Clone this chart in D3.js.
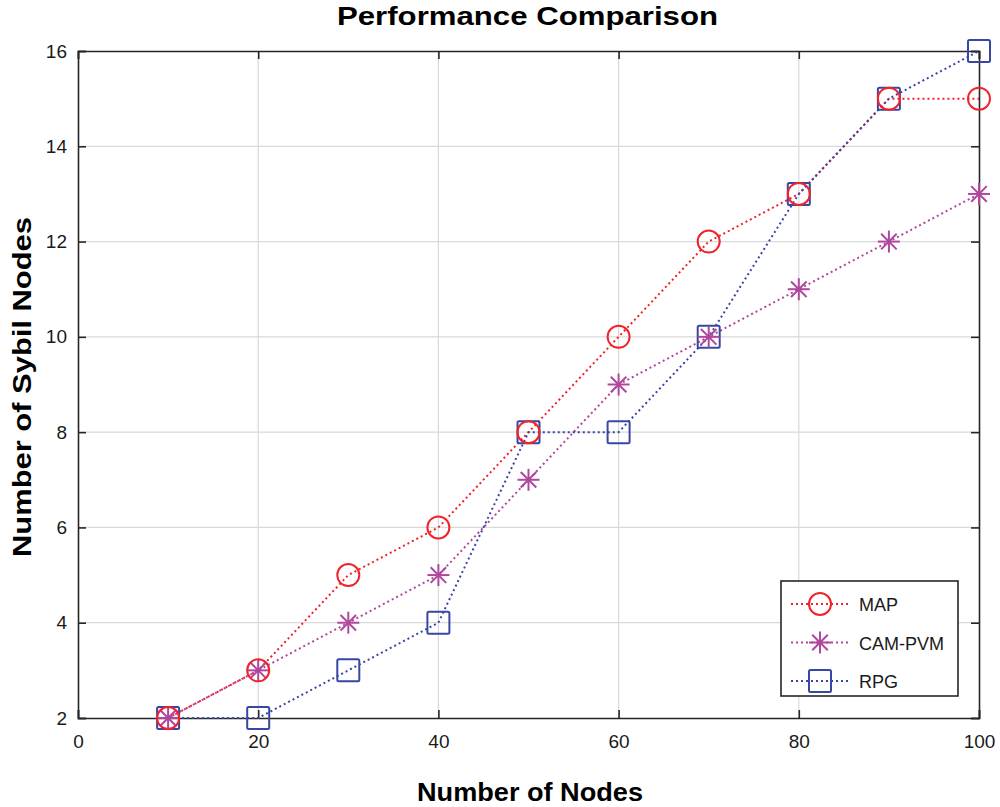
<!DOCTYPE html>
<html>
<head>
<meta charset="utf-8">
<script src="https://cdn.jsdelivr.net/npm/d3@7"></script>
<style>
  body { margin: 0; background: #fff; }
  text { font-family: "Liberation Sans", Arial, sans-serif; }
</style>
</head>
<body>
<svg id="svg" width="1000" height="807"></svg>
<script>
var svg = d3.select("#svg");

const width = 1000;
const height = 807;

const nodes = [10, 20, 30, 40, 50, 60, 70, 80, 90, 100];
const mapValues = [2, 3, 5, 6, 8, 10, 12, 13, 15, 15];
const camValues = [2, 3, 4, 5, 7, 9, 10, 11, 12, 13];
const rpgValues = [2, 2, 3, 4, 8, 8, 10, 13, 15, 16];
const xTicks = [0, 20, 40, 60, 80, 100];
const yTicks = [2, 4, 6, 8, 10, 12, 14, 16];

const series = [
    {name: 'MAP', values: mapValues, color: '#f0222a', marker: 'circle', offset: 0},
    {name: 'CAM-PVM', values: camValues, color: '#b0479c', marker: 'star', offset: 2},
    {name: 'RPG', values: rpgValues, color: '#3846a5', marker: 'square', offset: 1}
];

const margin = {top: 51, left: 78, right: 21, bottom: 89};
const innerWidth = width - margin.left - margin.right;
const innerHeight = height - margin.top - margin.bottom;

const xScale = d3.scaleLinear().domain([0, 100]).range([0, innerWidth]);
const yScale = d3.scaleLinear().domain([2, 16]).range([innerHeight, 0]);

const g = svg.append('g')
    .attr('transform', `translate(${margin.left},${margin.top})`);

// grid
g.append('g').selectAll('line').data(xTicks.slice(1, -1))
    .enter().append('line')
    .attr('x1', d => xScale(d)).attr('x2', d => xScale(d))
    .attr('y1', 0).attr('y2', innerHeight)
    .attr('stroke', '#d9d9d9').attr('stroke-width', 1.2);
g.append('g').selectAll('line').data(yTicks.slice(1, -1))
    .enter().append('line')
    .attr('y1', d => yScale(d)).attr('y2', d => yScale(d))
    .attr('x1', 0).attr('x2', innerWidth)
    .attr('stroke', '#d9d9d9').attr('stroke-width', 1.2);

// axes
const xAxis = g.append('g')
    .attr('transform', `translate(0,${innerHeight})`)
    .call(d3.axisBottom(xScale).tickValues(xTicks).tickSize(-8).tickPadding(17));
const yAxis = g.append('g')
    .call(d3.axisLeft(yScale).tickValues(yTicks).tickSize(-8).tickPadding(11));
const xTop = g.append('g')
    .call(d3.axisTop(xScale).tickValues(xTicks).tickSize(-8).tickFormat(''));
const yRight = g.append('g')
    .attr('transform', `translate(${innerWidth},0)`)
    .call(d3.axisRight(yScale).tickValues(yTicks).tickSize(-8).tickFormat(''));

[xAxis, yAxis, xTop, yRight].forEach(a => {
    a.select('.domain').attr('stroke', '#262626').attr('stroke-width', 1.6);
    a.selectAll('.tick line').attr('stroke', '#262626').attr('stroke-width', 1.6);
    a.selectAll('.tick text').attr('font-size', 19).attr('fill', '#1a1a1a')
        .style('font-family', '"Liberation Sans", Arial, sans-serif');
});

// lines
const line = d3.line()
    .x((d, i) => xScale(nodes[i]))
    .y(d => yScale(d));

const drawMarker = (sel, type, color) => {
    if (type === 'circle') {
        sel.append('circle').attr('r', 11)
            .attr('fill', 'none').attr('stroke', color).attr('stroke-width', 2);
    } else if (type === 'square') {
        sel.append('rect').attr('x', -11).attr('y', -11)
            .attr('width', 22).attr('height', 22).attr('rx', 1.5)
            .attr('fill', 'none').attr('stroke', color).attr('stroke-width', 2);
    } else {
        const r = 11;
        [0, 45, 90, 135].forEach(a => {
            const rad = a * Math.PI / 180;
            sel.append('line')
                .attr('x1', -r * Math.cos(rad)).attr('y1', -r * Math.sin(rad))
                .attr('x2', r * Math.cos(rad)).attr('y2', r * Math.sin(rad))
                .attr('stroke', color).attr('stroke-width', 2);
        });
    }
};

series.forEach(s => {
    g.append('path')
        .datum(s.values)
        .attr('d', line)
        .attr('fill', 'none')
        .attr('stroke', s.color)
        .attr('stroke-width', 2)
        .attr('stroke-dasharray', '2,3')
        .attr('stroke-dashoffset', s.offset);
});

series.slice().reverse().forEach(s => {
    s.values.forEach((v, i) => {
        const m = g.append('g')
            .attr('transform', `translate(${xScale(nodes[i])},${yScale(v)})`);
        drawMarker(m, s.marker, s.color);
    });
});

// legend
const legend = g.append('g')
    .attr('transform', `translate(${781 - margin.left},${581 - margin.top})`);
legend.append('rect')
    .attr('width', 177).attr('height', 115)
    .attr('fill', '#fff').attr('stroke', '#262626').attr('stroke-width', 1.6);
series.forEach((s, i) => {
    const row = legend.append('g').attr('transform', `translate(0,${23 + i * 38.5})`);
    row.append('line')
        .attr('x1', 10).attr('x2', 67)
        .attr('stroke', s.color).attr('stroke-width', 2)
        .attr('stroke-dasharray', '2,3');
    const m = row.append('g').attr('transform', 'translate(39,0)');
    drawMarker(m, s.marker, s.color);
    row.append('text')
        .attr('x', 78).attr('y', 7)
        .attr('font-size', 18).attr('fill', '#1a1a1a')
        .text(s.name);
});

// titles
svg.append('text')
    .attr('x', 337).attr('y', 25)
    .attr('font-size', 25).attr('font-weight', 'bold')
    .attr('textLength', 381).attr('lengthAdjust', 'spacingAndGlyphs')
    .text('Performance Comparison');

svg.append('text')
    .attr('x', 417).attr('y', 801)
    .attr('font-size', 25).attr('font-weight', 'bold')
    .attr('textLength', 226).attr('lengthAdjust', 'spacingAndGlyphs')
    .text('Number of Nodes');

svg.append('text')
    .attr('transform', 'translate(31,557) rotate(-90)')
    .attr('font-size', 26).attr('font-weight', 'bold')
    .attr('textLength', 340).attr('lengthAdjust', 'spacingAndGlyphs')
    .text('Number of Sybil Nodes');
</script>
</body>
</html>
